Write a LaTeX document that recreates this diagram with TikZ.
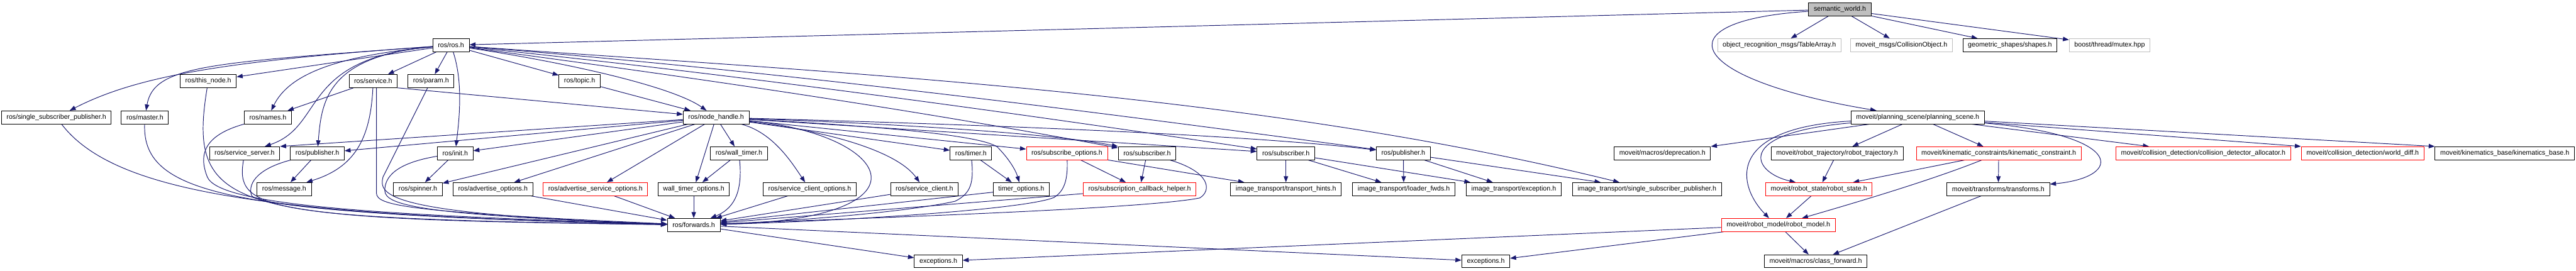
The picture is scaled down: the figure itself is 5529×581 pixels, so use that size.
\documentclass[tikz,border=0pt]{standalone}
\usepackage{fontspec}
\setmainfont{Liberation Sans}
\usepackage{xcolor}
\usepackage{tikz}
\usetikzlibrary{arrows.meta, backgrounds}

\definecolor{depblue}{HTML}{191970}
\definecolor{nofile}{HTML}{BFBFBF}

\begin{document}
\begin{tikzpicture}[x=1pt, y=-1pt, >={Triangle[length=13pt, width=9.5pt]},
    hfile/.style={draw=black, fill=white, line width=1.3pt, minimum height=28pt,
        inner xsep=11pt, inner ysep=0pt, font=\fontsize{14.4}{17}\selectfont},
    hred/.style={hfile, draw=red},
    hgray/.style={hfile, draw=nofile},
    hroot/.style={hfile, fill=nofile},
    inc/.style={->, draw=depblue, line width=1.3pt}]
    \useasboundingbox (0,0) rectangle (5529,581);

    % Tệp gốc
    \node[hroot] (sw) at (3949,20) {semantic\_world.h};

    % Hàng 1
    \node[hfile] (rosh) at (968,97) {ros/ros.h};
    \node[hgray] (tablearray) at (3819,97) {object\_recognition\_msgs/TableArray.h};
    \node[hgray] (collobj) at (4081,97) {moveit\_msgs/CollisionObject.h};
    \node[hfile] (shapes) at (4314,97) {geometric\_shapes/shapes.h};
    \node[hgray] (mutex) at (4528,97) {boost/thread/mutex.hpp};

    % Hàng 2
    \node[hfile] (thisnode) at (447,174) {ros/this\_node.h};
    \node[hfile] (service) at (801,174) {ros/service.h};
    \node[hfile] (param) at (925,174) {ros/param.h};
    \node[hfile] (topic) at (1244,174) {ros/topic.h};

    % Hàng 3
    \node[hfile] (sspL) at (121,252) {ros/single\_subscriber\_publisher.h};
    \node[hfile] (master) at (311,252) {ros/master.h};
    \node[hfile] (names) at (575,252) {ros/names.h};
    \node[hfile] (nodehandle) at (1537,252) {ros/node\_handle.h};
    \node[hfile] (pscene) at (4116,252) {moveit/planning\_scene/planning\_scene.h};

    % Hàng 4
    \node[hfile] (srvserver) at (525,329) {ros/service\_server.h};
    \node[hfile] (pubL) at (681,329) {ros/publisher.h};
    \node[hfile] (init) at (977,329) {ros/init.h};
    \node[hfile] (walltimer) at (1586,329) {ros/wall\_timer.h};
    \node[hfile] (timer) at (2084,329) {ros/timer.h};
    \node[hred] (subopts) at (2290,329) {ros/subscribe\_options.h};
    \node[hfile] (subL) at (2462,329) {ros/subscriber.h};
    \node[hfile] (subR) at (2760,329) {ros/subscriber.h};
    \node[hfile] (pubR) at (3012,329) {ros/publisher.h};
    \node[hfile] (deprecation) at (3568,329) {moveit/macros/deprecation.h};
    \node[hfile] (rtraj) at (3943,329) {moveit/robot\_trajectory/robot\_trajectory.h};
    \node[hred] (kinc) at (4290,329) {moveit/kinematic\_constraints/kinematic\_constraint.h};
    \node[hred] (cda) at (4729,329) {moveit/collision\_detection/collision\_detector\_allocator.h};
    \node[hred] (worlddiff) at (5071,329) {moveit/collision\_detection/world\_diff.h};
    \node[hfile] (kbase) at (5376,329) {moveit/kinematics\_base/kinematics\_base.h};

    % Hàng 5
    \node[hfile] (message) at (610,406) {ros/message.h};
    \node[hfile] (spinner) at (897,406) {ros/spinner.h};
    \node[hfile] (advopts) at (1058,406) {ros/advertise\_options.h};
    \node[hred] (advsrvopts) at (1278,406) {ros/advertise\_service\_options.h};
    \node[hfile] (wtopts) at (1489,406) {wall\_timer\_options.h};
    \node[hfile] (scopts) at (1738,406) {ros/service\_client\_options.h};
    \node[hfile] (sclient) at (1984,406) {ros/service\_client.h};
    \node[hfile] (timeropts) at (2192,406) {timer\_options.h};
    \node[hred] (subcb) at (2446,406) {ros/subscription\_callback\_helper.h};
    \node[hfile] (thints) at (2760,406) {image\_transport/transport\_hints.h};
    \node[hfile] (loader) at (3013,406) {image\_transport/loader\_fwds.h};
    \node[hfile] (itexc) at (3249,406) {image\_transport/exception.h};
    \node[hfile] (itssp) at (3535,406) {image\_transport/single\_subscriber\_publisher.h};
    \node[hred] (rstate) at (3904,406) {moveit/robot\_state/robot\_state.h};
    \node[hfile] (transforms) at (4289,406) {moveit/transforms/transforms.h};

    % Hàng 6, 7
    \node[hfile] (forwards) at (1489,483) {ros/forwards.h};
    \node[hred] (rmodel) at (3817,483) {moveit/robot\_model/robot\_model.h};
    \node[hfile] (excL) at (2014,561) {exceptions.h};
    \node[hfile] (excR) at (3189,561) {exceptions.h};
    \node[hfile] (classfwd) at (3897,561) {moveit/macros/class\_forward.h};

    \begin{scope}[on background layer]
    % semantic_world.h
    \draw[inc] (sw) -- (rosh);
    \draw[inc] (sw) -- (tablearray);
    \draw[inc] (sw) -- (collobj);
    \draw[inc] (sw) -- (shapes);
    \draw[inc] (sw) -- (mutex);
    \draw[inc] (sw) .. controls (3560,45) and (3620,170) .. (pscene);

    % ros/ros.h
    \draw[inc] (rosh) .. controls (500,130) and (300,160) .. (sspL);
    \draw[inc] (rosh) .. controls (450,135) and (330,140) .. (master);
    \draw[inc] (rosh) -- (thisnode);
    \draw[inc] (rosh) .. controls (720,120) and (620,160) .. (names);
    \draw[inc] (rosh) .. controls (640,125) and (700,270) .. (srvserver);
    \draw[inc] (rosh) .. controls (700,120) and (690,220) .. (pubL);
    \draw[inc] (rosh) -- (service);
    \draw[inc] (rosh) -- (param);
    \draw[inc] (rosh) .. controls (995,180) and (985,260) .. (init);
    \draw[inc] (rosh) -- (topic);
    \draw[inc] (rosh) .. controls (1250,140) and (1450,190) .. (nodehandle);
    \draw[inc] (rosh) .. controls (1471,164) and (1936,231) .. (subL);
    \draw[inc] (rosh) .. controls (1571,159) and (2135,236) .. (subR);
    \draw[inc] (rosh) .. controls (1654,151) and (2300,233) .. (pubR);
    \draw[inc] (rosh) .. controls (1826,158) and (2700,200) .. (itssp);

    % ros/service.h, ros/param.h, ros/init.h ...
    \draw[inc] (service) -- (names);
    \draw[inc] (service) .. controls (795,300) and (760,360) .. (message);
    \draw[inc] ([xshift=7pt]service.south) -- (808,415) .. controls (810,440) and (860,455) .. (forwards);
    \draw[inc] (service.south east) -- (nodehandle);
    \draw[inc] (param) -- (822,380) .. controls (812,420) and (830,460) .. (forwards);
    \draw[inc] (topic) -- (nodehandle);
    \draw[inc] (init) -- (spinner);
    \draw[inc] (init) .. controls (850,350) and (825,380) .. (826,410) .. controls (828,440) and (900,462) .. (forwards);
    \draw[inc] (sspL) .. controls (250,420) and (600,462) .. (forwards);
    \draw[inc] (master) .. controls (305,420) and (500,460) .. (forwards);
    \draw[inc] (thisnode) .. controls (400,460) and (500,470) .. (forwards);
    \draw[inc] (names) .. controls (440,290) and (425,330) .. (445,380) .. controls (470,440) and (800,462) .. (forwards);
    \draw[inc] (srvserver) .. controls (505,450) and (560,470) .. (forwards);
    \draw[inc] (pubL) -- (message);
    \draw[inc] (pubL) .. controls (560,360) and (530,390) .. (540,420) .. controls (560,445) and (900,470) .. (forwards);

    % ros/node_handle.h
    \draw[inc] (nodehandle) -- (srvserver.north east);
    \draw[inc] (nodehandle) -- (pubL);
    \draw[inc] (nodehandle) -- (init);
    \draw[inc] (nodehandle) -- (spinner);
    \draw[inc] (nodehandle) -- (advopts);
    \draw[inc] (nodehandle) -- (advsrvopts);
    \draw[inc] (nodehandle) -- (wtopts);
    \draw[inc] (nodehandle) -- (walltimer);
    \draw[inc] (nodehandle) .. controls (1660,285) and (1700,350) .. (scopts);
    \draw[inc] (nodehandle) .. controls (1800,285) and (1930,330) .. (sclient);
    \draw[inc] (nodehandle) .. controls (1920,290) and (2010,470) .. (forwards);
    \draw[inc] (nodehandle) -- (timer);
    \draw[inc] (nodehandle) .. controls (1900,272) and (2100,290) .. (2140,315) .. controls (2165,340) and (2180,365) .. (timeropts);
    \draw[inc] (nodehandle) -- (subopts);
    \draw[inc] (nodehandle) .. controls (1900,265) and (2250,285) .. (subL.north west);
    \draw[inc] (nodehandle) -- (subR);
    \draw[inc] (nodehandle) .. controls (2200,270) and (2700,292) .. (pubR);

    % tầng dưới
    \draw[inc] (walltimer) -- (wtopts);
    \draw[inc] (walltimer) .. controls (1595,420) and (1570,450) .. (forwards);
    \draw[inc] (wtopts) -- (forwards);
    \draw[inc] (advopts) -- (forwards);
    \draw[inc] (advsrvopts) -- (forwards);
    \draw[inc] (scopts) -- (forwards);
    \draw[inc] (sclient) -- (forwards);
    \draw[inc] (timer) -- (timeropts);
    \draw[inc] (timer) .. controls (2090,390) and (2085,415) .. (2050,432) .. controls (1950,455) and (1700,475) .. (forwards);
    \draw[inc] (timeropts) -- (forwards);
    \draw[inc] (subopts) -- (subcb);
    \draw[inc] (subopts) -- (thints);
    \draw[inc] (subopts) .. controls (2292,385) and (2285,410) .. (2262,424) .. controls (2200,450) and (1800,475) .. (forwards);
    \draw[inc] (subL) -- (subcb);
    \draw[inc] (subL) .. controls (2600,370) and (2600,410) .. (2575,425) .. controls (2450,450) and (1800,470) .. (forwards);
    \draw[inc] (subcb) -- (forwards);
    \draw[inc] (subR) -- (thints);
    \draw[inc] (subR) -- (loader);
    \draw[inc] (subR) -- (itexc);
    \draw[inc] (pubR) -- (loader);
    \draw[inc] (pubR) -- (itexc);
    \draw[inc] (pubR) -- (itssp);
    \draw[inc] (forwards) -- (excL);
    \draw[inc] (forwards) -- (excR);

    % moveit
    \draw[inc] (pscene) -- (deprecation);
    \draw[inc] (pscene) -- (rtraj);
    \draw[inc] (pscene) .. controls (3720,285) and (3760,370) .. ([xshift=-50pt]rstate.north);
    \draw[inc] (pscene) .. controls (3700,275) and (3730,400) .. ([xshift=-20pt]rmodel.north);
    \draw[inc] (pscene) -- (kinc);
    \draw[inc] (pscene) .. controls (4560,290) and (4560,380) .. (transforms);
    \draw[inc] (pscene) -- (cda);
    \draw[inc] (pscene) -- (worlddiff.north west);
    \draw[inc] (pscene) -- (kbase.north west);
    \draw[inc] (rtraj) -- (rstate);
    \draw[inc] (kinc) -- (rstate);
    \draw[inc] (kinc) .. controls (4150,385) and (4000,430) .. (rmodel);
    \draw[inc] (kinc) -- (transforms);
    \draw[inc] (rstate) -- (rmodel);
    \draw[inc] (rmodel) -- (classfwd);
    \draw[inc] (transforms) -- (classfwd);
    \draw[inc] (rmodel) -- (excL);
    \draw[inc] (rmodel) -- (excR);
    \end{scope}
\end{tikzpicture}
\end{document}
